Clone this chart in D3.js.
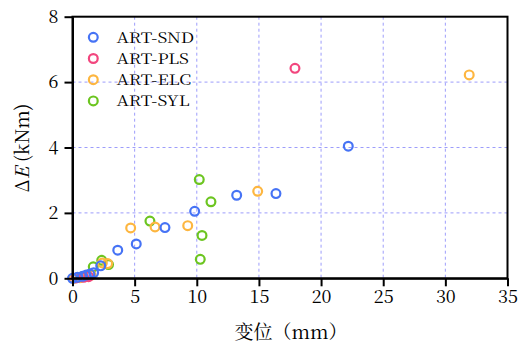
<!DOCTYPE html>
<html><head><meta charset="utf-8">
<script src="https://cdn.jsdelivr.net/npm/d3@7"></script>
<style>body{margin:0;background:#fff}</style>
</head><body>
<svg id="c" width="521" height="344"></svg>
<script>
const seriesNames = ["ART-SND","ART-PLS","ART-ELC","ART-SYL"];
const seriesColors = ["#4673F5","#F2467E","#FDB640","#6CC520"];
const sndX = [0,0.4,0.8,1.1,1.4,1.7,2.27,3.64,5.13,7.44,9.83,13.21,16.37,22.19];
const sndY = [0,0.03,0.06,0.1,0.13,0.17,0.38,0.86,1.05,1.55,2.05,2.54,2.59,4.04];
const plsX = [0.3,0.9,1.3,17.9];
const plsY = [0.01,0.03,0.05,6.42];
const elcX = [0.1,0.6,1.5,2.4,2.83,4.68,6.64,9.27,14.9,31.92];
const elcY = [0.0,0.02,0.1,0.47,0.45,1.54,1.57,1.61,2.66,6.22];
const sylX = [0.8,1.67,2.35,2.9,6.23,10.2,11.14,10.42,10.28];
const sylY = [0.05,0.35,0.55,0.42,1.75,3.02,2.34,1.31,0.58];
const xTicks = [0,5,10,15,20,25,30,35];
const yTicks = [0,2,4,6,8];

const series = [
  {name:seriesNames[0], color:seriesColors[0], xs:sndX, ys:sndY},
  {name:seriesNames[1], color:seriesColors[1], xs:plsX, ys:plsY},
  {name:seriesNames[2], color:seriesColors[2], xs:elcX, ys:elcY},
  {name:seriesNames[3], color:seriesColors[3], xs:sylX, ys:sylY}
];

const svg = d3.select("#c");
const L=72.5, T=16.7, R=507.5, B=278.3;
const x = d3.scaleLinear().domain([0,35]).range([L,R]);
const y = d3.scaleLinear().domain([0,8]).range([B,T]);
const FONT = '"Noto Serif CJK SC"';

const g = svg.append("g");
g.selectAll(".vg").data(xTicks.filter(d=>d>0&&d<35)).enter().append("line")
  .attr("x1",d=>x(d)).attr("x2",d=>x(d)).attr("y1",T).attr("y2",B)
  .attr("stroke","#9d9dfb").attr("stroke-width",1).attr("stroke-dasharray","3,3");
g.selectAll(".hg").data(yTicks.filter(d=>d>0&&d<8)).enter().append("line")
  .attr("y1",d=>y(d)).attr("y2",d=>y(d)).attr("x1",L).attr("x2",R)
  .attr("stroke","#9d9dfb").attr("stroke-width",1).attr("stroke-dasharray","3,3");

const order = [3,2,1,0];
order.forEach(i=>{
  const s = series[i];
  const pts = s.xs.map((v,j)=>[v,s.ys[j]]);
  svg.append("g").selectAll("circle").data(pts).enter().append("circle")
    .attr("cx",d=>x(d[0])).attr("cy",d=>y(d[1])).attr("r",4.4)
    .attr("fill","none").attr("stroke",s.color).attr("stroke-width",2.2);
});

svg.append("rect").attr("x",L).attr("y",T).attr("width",R-L).attr("height",B-T)
  .attr("fill","none").attr("stroke","#000").attr("stroke-width",2);

const xa = svg.append("g").attr("transform",`translate(0,${B})`)
  .call(d3.axisBottom(x).tickValues(xTicks).tickSize(8).tickSizeOuter(0).tickPadding(4));
const ya = svg.append("g").attr("transform",`translate(${L},0)`)
  .call(d3.axisLeft(y).tickValues(yTicks).tickSize(8).tickSizeOuter(0).tickPadding(6));
[xa,ya].forEach(a=>{
  a.attr("font-family",null).attr("font-size",null);
  a.select(".domain").attr("stroke","#000").attr("stroke-width",2);
  a.selectAll(".tick line").attr("stroke","#000").attr("stroke-width",2);
  a.selectAll(".tick text").style("font-family",FONT).style("font-size","18px").attr("fill","#000");
});

series.forEach((s,i)=>{
  const cy = 37.3 + i*21.2;
  svg.append("circle").attr("cx",93.3).attr("cy",cy).attr("r",4.4)
    .attr("fill","none").attr("stroke",s.color).attr("stroke-width",2.2);
  svg.append("text").attr("transform",`translate(116.5,${cy+5.3}) scale(1.2,1)`).text(s.name)
    .style("font-family",FONT).style("font-size","14.5px").attr("fill","#000");
});

svg.append("text").attr("x",291).attr("y",339).attr("text-anchor","middle")
  .style("font-family",FONT).style("font-size","19px")
  .text("变位（mm）");
const yt = svg.append("text").attr("transform","translate(29,148) rotate(-90)")
  .attr("text-anchor","middle").style("font-family",FONT).style("font-size","19px");
yt.append("tspan").text("Δ");
yt.append("tspan").attr("font-style","italic").text("E");
yt.append("tspan").text(" (kNm)");
</script>
</body></html>
